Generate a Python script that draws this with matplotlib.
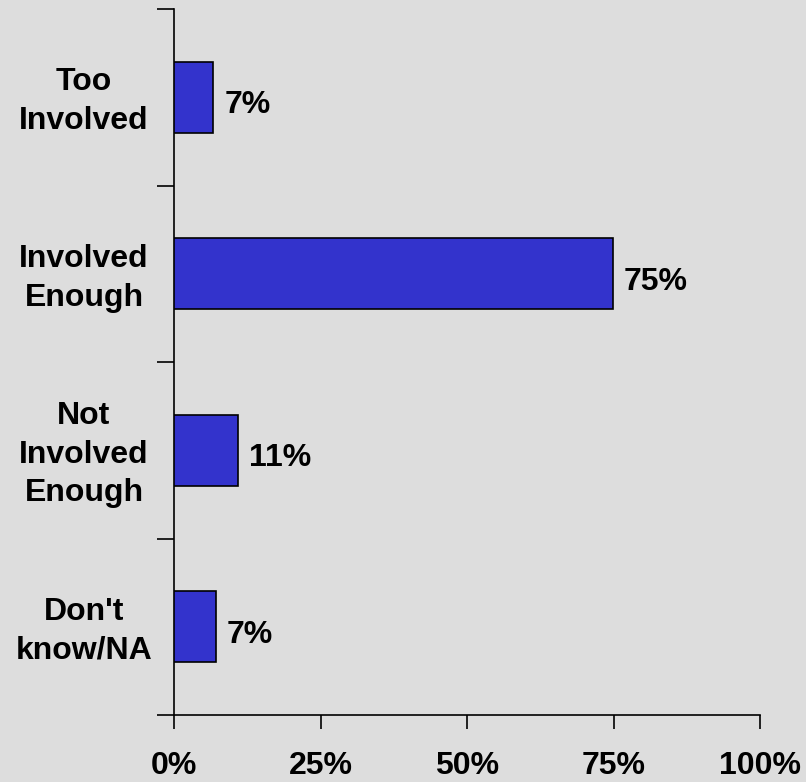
import matplotlib
matplotlib.use("Agg")
import matplotlib.pyplot as plt
from matplotlib.ticker import FixedLocator, NullFormatter

categories = ["Too\nInvolved", "Involved\nEnough", "Not\nInvolved\nEnough", "Don't\nknow/NA"]
values = [6.7, 74.9, 10.9, 7.1]
value_labels = ["7%", "75%", "11%", "7%"]
x_ticks = [0, 25, 50, 75, 100]
x_tick_labels = ["0%", "25%", "50%", "75%", "100%"]

plt.rcParams['font.family'] = ['Liberation Sans', 'DejaVu Sans']
bg = "#dddddd"
fs = 23
fig = plt.figure(figsize=(8.06, 7.82), dpi=100, facecolor=bg)
ax = fig.add_axes([174/806, 1-715/782, (760-174)/806, (715-9)/782])
ax.set_facecolor(bg)

ypos = list(range(len(categories)))
ax.barh(ypos, values, height=0.4, color="#3333cc", edgecolor="black", linewidth=1.2, zorder=3)
for y, v, lab in zip(ypos, values, value_labels):
    ax.text(v + 1.9, y + 0.045, lab, va="center", ha="left", fontsize=fs, fontweight="bold")

ax.set_xlim(0, 100)
ax.set_ylim(3.5, -0.5)
ax.set_xticks(x_ticks)
ax.set_xticklabels(x_tick_labels, fontsize=fs, fontweight="bold")
ax.tick_params(axis="x", direction="out", length=10, width=1.2, pad=16)

ax.yaxis.set_major_locator(FixedLocator([-0.5, 0.5, 1.5, 2.5, 3.5]))
ax.yaxis.set_major_formatter(NullFormatter())
ax.tick_params(axis="y", direction="out", length=12, width=1.2)
for y, c in zip(ypos, categories):
    ax.text(-0.1536, y + 0.025, c, transform=ax.get_yaxis_transform(), ha="center", va="center",
            fontsize=fs, fontweight="bold", multialignment="center", linespacing=1.38)

for s in ["top", "right"]:
    ax.spines[s].set_visible(False)
for s in ["left", "bottom"]:
    ax.spines[s].set_linewidth(1.2)

fig.savefig("out.png", dpi=100, facecolor=bg)
